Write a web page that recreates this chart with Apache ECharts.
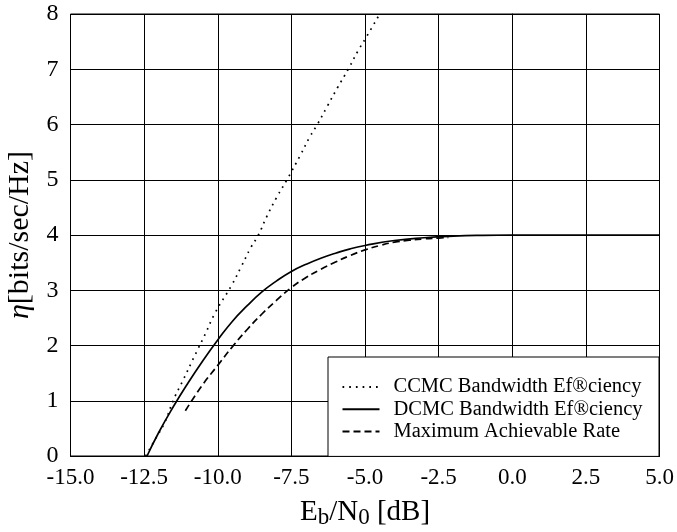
<!DOCTYPE html>
<html>
<head>
<meta charset="utf-8">
<script src="https://cdn.jsdelivr.net/npm/echarts@6/dist/echarts.min.js"></script>
<style>
html,body{margin:0;padding:0;background:#fff;}
#chart{width:677px;height:532px;}
</style>
</head>
<body>
<div id="chart"></div>
<script>
// Data
var xTicks = [-15.0, -12.5, -10.0, -7.5, -5.0, -2.5, 0.0, 2.5, 5.0];
var yTicks = [0, 1, 2, 3, 4, 5, 6, 7, 8];

var seriesNames = ['CCMC Bandwidth Ef®ciency', 'DCMC Bandwidth Ef®ciency', 'Maximum Achievable Rate'];

var ccmcX = [-12.45, -12.07, -11.79, -11.5, -11.17, -10.77, -10.43, -10.09, -9.53, -9.19, -8.88, -8.62, -8.34, -8.0, -7.64, -7.21, -6.87, -6.62, -6.27, -5.93, -5.57, -5.23, -4.98, -4.5];
var ccmcY = [0, 0.35, 0.62, 1.02, 1.38, 1.83, 2.2, 2.59, 3.09, 3.44, 3.77, 4.0, 4.33, 4.68, 5.01, 5.43, 5.78, 6.0, 6.34, 6.67, 7.0, 7.34, 7.56, 8.0];

var dcmcX = [-12.4, -12.0, -11.5, -11.0, -10.5, -10.0, -9.5, -9.0, -8.5, -8.0, -7.5, -7.0, -6.5, -6.0, -5.5, -5.0, -4.0, -3.0, -2.0, -1.0, 0.0, 2.5, 5.0];
var dcmcY = [0, 0.43, 0.9, 1.33, 1.73, 2.1, 2.44, 2.72, 2.97, 3.17, 3.34, 3.47, 3.58, 3.67, 3.75, 3.81, 3.9, 3.95, 3.98, 3.995, 4.0, 4.0, 4.0];

var marX = [-11.1, -10.5, -10.0, -9.5, -9.0, -8.5, -8.0, -7.5, -7.0, -6.5, -6.0, -5.5, -5.0, -4.5, -4.0, -3.5, -3.0, -2.5, -2.17];
var marY = [0.82, 1.3, 1.64, 1.98, 2.29, 2.57, 2.82, 3.05, 3.23, 3.38, 3.51, 3.63, 3.73, 3.81, 3.87, 3.905, 3.93, 3.945, 3.955];

function pairs(xs, ys) {
  var out = [];
  for (var i = 0; i < xs.length; i++) out.push([xs[i], ys[i]]);
  return out;
}

var FONT = "'Liberation Serif','Times New Roman',serif";
var chart = echarts.init(document.getElementById('chart'), null, {renderer: 'canvas'});

var option = {
  backgroundColor: '#fff',
  animation: false,
  grid: {
    left: 70.5, right: 17.5, top: 14, bottom: 76,
    outerBoundsMode: 'none', containLabel: false,
    show: true, borderColor: '#000', borderWidth: 1, backgroundColor: 'transparent'
  },
  xAxis: {
    type: 'value',
    min: xTicks[0], max: xTicks[xTicks.length - 1], interval: 2.5,
    name: 'E{s|b}/N{s|0} [dB]',
    nameLocation: 'middle',
    nameGap: 35,
    nameTextStyle: {
      fontFamily: FONT, fontSize: 29, color: '#000', lineHeight: 36, verticalAlign: 'top',
      rich: {
        s: {fontFamily: FONT, fontSize: 23, color: '#000', verticalAlign: 'bottom', lineHeight: 36}
      }
    },
    axisLine: {show: true, lineStyle: {color: '#000', width: 1}},
    axisTick: {show: false},
    axisLabel: {
      fontFamily: FONT, fontSize: 23, color: '#000', margin: 10,
      showMinLabel: true, showMaxLabel: true,
      formatter: function (v) { return v.toFixed(1); }
    },
    splitLine: {show: true, lineStyle: {color: '#000', width: 1}}
  },
  yAxis: {
    type: 'value',
    min: yTicks[0], max: yTicks[yTicks.length - 1], interval: 1,
    name: '{e|η}[bits/sec/Hz]',
    nameLocation: 'middle',
    nameGap: 33,
    nameRotate: 90,
    nameTextStyle: {
      fontFamily: FONT, fontSize: 30, color: '#000',
      rich: {
        e: {fontFamily: FONT, fontStyle: 'italic', fontSize: 30, color: '#000'}
      }
    },
    axisLine: {show: true, lineStyle: {color: '#000', width: 1}},
    axisTick: {show: false},
    axisLabel: {fontFamily: FONT, fontSize: 24, color: '#000', margin: 12},
    splitLine: {show: true, lineStyle: {color: '#000', width: 1}}
  },
  legend: {
    orient: 'vertical',
    left: 328, top: 357,
    padding: [19.5, 16.5, 14.5, 13.5],
    itemWidth: 37, itemHeight: 14, itemGap: 1.2,
    backgroundColor: '#fff',
    borderColor: '#000', borderWidth: 1, borderRadius: 0,
    itemStyle: {opacity: 0},
    textStyle: {fontFamily: FONT, fontSize: 20.5, color: '#000', padding: [0, 0, 0, 9]},
    data: seriesNames
  },
  series: [
    {
      name: seriesNames[0], type: 'line', data: pairs(ccmcX, ccmcY),
      smooth: 0.5, symbol: 'none', clip: true,
      lineStyle: {color: '#000', width: 1.7, type: [1.7, 5]},
      itemStyle: {color: '#000'}, z: 3
    },
    {
      name: seriesNames[1], type: 'line', data: pairs(dcmcX, dcmcY),
      smooth: 0.5, symbol: 'none', clip: true,
      lineStyle: {color: '#000', width: 1.7, type: 'solid'},
      itemStyle: {color: '#000'}, z: 3
    },
    {
      name: seriesNames[2], type: 'line', data: pairs(marX, marY),
      smooth: 0.5, symbol: 'none', clip: true,
      lineStyle: {color: '#000', width: 1.7, type: [7, 4]},
      itemStyle: {color: '#000'}, z: 3
    }
  ]
};
chart.setOption(option);
</script>
</body>
</html>
